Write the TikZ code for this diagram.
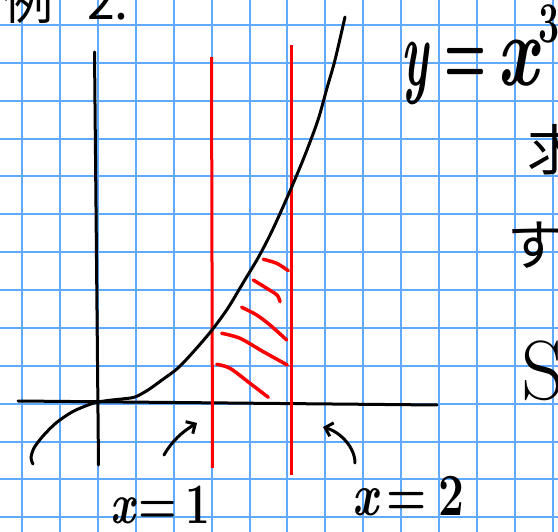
\documentclass[tikz,border=0pt]{standalone}
\usepackage{fontspec}
\usepackage{graphicx}
\newfontfamily\jpfont{Noto Sans CJK JP}
\usetikzlibrary{arrows.meta}
\definecolor{gridblue}{RGB}{95,170,255}
\definecolor{penred}{RGB}{250,0,0}
\begin{document}
\begin{tikzpicture}[x=1pt,y=-1pt,
  gridline/.style={draw=gridblue,line width=2pt},
  pen/.style={draw=black,line width=3pt,line cap=round,line join=round},
  redpen/.style={draw=penred,line width=3pt},
  hatch/.style={draw=penred,line width=3.5pt,line cap=round,line join=round},
  handarrow/.style={pen,line width=3pt,-{Straight Barb[length=7pt,width=14pt,line width=3pt]}},
  txt/.style={inner sep=0pt,text=black}]
\useasboundingbox (0,0) rectangle (558,532);
\clip (0,0) rectangle (558,532);
\fill[white] (0,0) rectangle (558,532);
% grid
\foreach \i in {0,...,14} {\draw[gridline] (22.4+37.87*\i,0) -- (22.4+37.87*\i,532);}
\foreach \j in {0,...,13} {\draw[gridline] (0,25+37.87*\j) -- (558,25+37.87*\j);}
% axes
\coordinate (yt) at (94.5,52);
\coordinate (yb) at (98.5,465);
\coordinate (xl) at (18,401);
\coordinate (xr) at (437,405);
\draw[pen] (yt) -- (yb);
\draw[pen] (xl) -- (xr);
% red lines
\coordinate (r1t) at (211.5,57);
\coordinate (r1b) at (212.5,468);
\coordinate (r2t) at (291,45);
\coordinate (r2b) at (291,475);
\draw[redpen] (r1t) -- (r1b);
\draw[redpen] (r2t) -- (r2b);
% hatch
\draw[hatch] plot[smooth] coordinates {(263.3,259.3) (276.7,263.3) (288.3,270.7)};
\draw[hatch] plot[smooth] coordinates {(253.3,280) (266.7,288.3) (277,295) (280,301.7)};
\draw[hatch] plot[smooth] coordinates {(241.7,307.3) (256.7,315) (270,325) (286.7,340)};
\draw[hatch] plot[smooth] coordinates {(221.7,333.3) (240,338.3) (263.3,351.7) (287.3,365)};
\draw[hatch] plot[smooth] coordinates {(216.7,364.3) (230,368.3) (250,383.3) (268.3,397.3)};
% curve y = x^3
\draw[pen] plot[smooth,tension=0.5] coordinates {(33,464) (31,458) (34,448) (43,436) (56,423) (72,412) (88,405) (98,402) (112,400) (122,399) (135,397) (148,390) (162,380) (178,368) (195,350) (212,330) (228,308) (243,283) (258,258) (272,231) (290,191) (305,155) (318,120) (327,88) (335,60) (345,17)};
% texts
\node[txt,anchor=base west] (title) at (3,20) {\fontsize{50}{50}\selectfont\jpfont 例\hspace{34pt}2.};
\node[txt,anchor=base west] (eq) at (401,86) {\scalebox{0.8}[1.6]{\fontsize{60}{60}\selectfont\bfseries\itshape y\hspace{20pt}\upshape=\hspace{14pt}\itshape\scalebox{1.5}[1.05]{x}\hspace{1pt}\raisebox{0.45em}{\upshape\scalebox{1.3}[1]{\fontsize{36}{36}\selectfont 3}}}};
\node[txt,anchor=west] (c1) at (527,150) {\fontsize{55}{55}\selectfont\jpfont 求};
\node[txt,anchor=west] (c2) at (507,245) {\fontsize{55}{55}\selectfont\jpfont す};
\node[txt,anchor=west] (c3) at (521,371) {\fontsize{84}{84}\selectfont S};
\node[txt,anchor=base west] (x1) at (110,523) {\scalebox{1}[1.3]{\fontsize{44}{44}\selectfont\bfseries\itshape x\hspace{4pt}\upshape=\hspace{8pt}1}};
\node[txt,anchor=base west] (x2) at (352,515) {\scalebox{1}[1.3]{\fontsize{46}{46}\selectfont\bfseries\itshape x\hspace{8pt}\upshape=\hspace{12pt}2}};
% hand-drawn arrows
\coordinate (a1s) at (164,455);
\coordinate (a1e) at (197,423);
\coordinate (a2s) at (355,463);
\coordinate (a2e) at (323,427);
\draw[handarrow] (a1s) .. controls (172,441) and (182,432) .. (a1e);
\draw[handarrow] (a2s) .. controls (355,447) and (340,432) .. (a2e);
\end{tikzpicture}
\end{document}
